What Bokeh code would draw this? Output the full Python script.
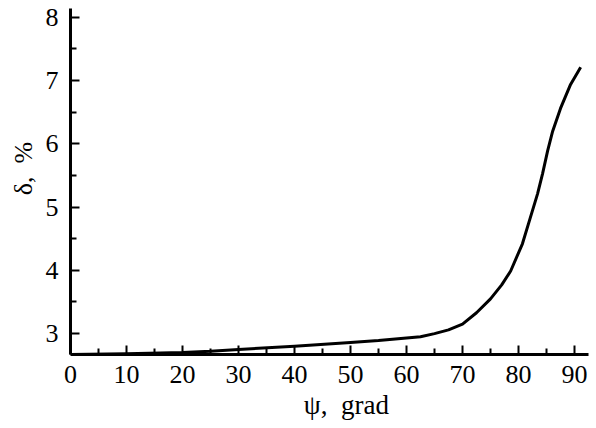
from bokeh.plotting import figure
from bokeh.models import Range1d, FixedTicker
from bokeh.embed import file_html
from bokeh.resources import INLINE

# Data
psi = [0, 10, 20, 25, 30, 40, 50, 55, 60, 62.5, 65, 67.5, 70, 72.5, 75.0,
       77.0, 78.6, 80.7, 82.1, 83.4, 84.3, 85.2, 86.1, 87.5, 89.3, 91.1]
delta = [2.67, 2.68, 2.70, 2.72, 2.75, 2.80, 2.86, 2.89, 2.93, 2.95, 3.00,
         3.06, 3.15, 3.33, 3.55, 3.77, 3.99, 4.42, 4.83, 5.21, 5.53, 5.89,
         6.20, 6.56, 6.94, 7.21]
x_ticks = [0, 10, 20, 30, 40, 50, 60, 70, 80, 90]
x_minor = [5, 15, 25, 35, 45, 55, 65, 75, 85]
y_ticks = [3, 4, 5, 6, 7, 8]
y_minor = [3.5, 4.5, 5.5, 6.5, 7.5]

FONT = "Liberation Serif"
NB = "\u00a0"

p = figure(width=596, height=428, output_backend="svg", toolbar_location=None,
           x_range=Range1d(0, 92.5), y_range=Range1d(2.67, 8.14),
           min_border_left=70, min_border_right=8, min_border_top=8,
           min_border_bottom=74)
p.outline_line_color = None
p.grid.visible = False
p.background_fill_color = "white"

p.line(psi, delta, line_color="black", line_width=3, line_join="round")

for ax, major, minor in ((p.xaxis[0], x_ticks, x_minor), (p.yaxis[0], y_ticks, y_minor)):
    ax.ticker = FixedTicker(ticks=major, minor_ticks=minor)
    ax.axis_line_width = 3
    ax.axis_line_color = "black"
    ax.major_tick_in = 9
    ax.major_tick_out = 0
    ax.minor_tick_in = 6
    ax.minor_tick_out = 0
    ax.major_tick_line_width = 2
    ax.minor_tick_line_width = 2
    ax.major_tick_line_color = "black"
    ax.minor_tick_line_color = "black"
    ax.major_label_text_font = FONT
    ax.major_label_text_font_size = "26px"
    ax.major_label_text_color = "black"
    ax.axis_label_text_font = FONT
    ax.axis_label_text_font_style = "normal"
    ax.axis_label_text_color = "black"

p.xaxis.major_label_standoff = 11
p.yaxis.major_label_standoff = 12

p.xaxis.axis_label = NB * 5 + "ψ," + NB + " grad"
p.xaxis.axis_label_text_font_size = "27px"
p.xaxis.axis_label_standoff = 4

p.yaxis.axis_label = NB * 4 + "δ," + NB + " %"
p.yaxis.axis_label_text_font_size = "26px"
p.yaxis.axis_label_standoff = 5

open("out.html", "w").write(file_html(p, INLINE))
